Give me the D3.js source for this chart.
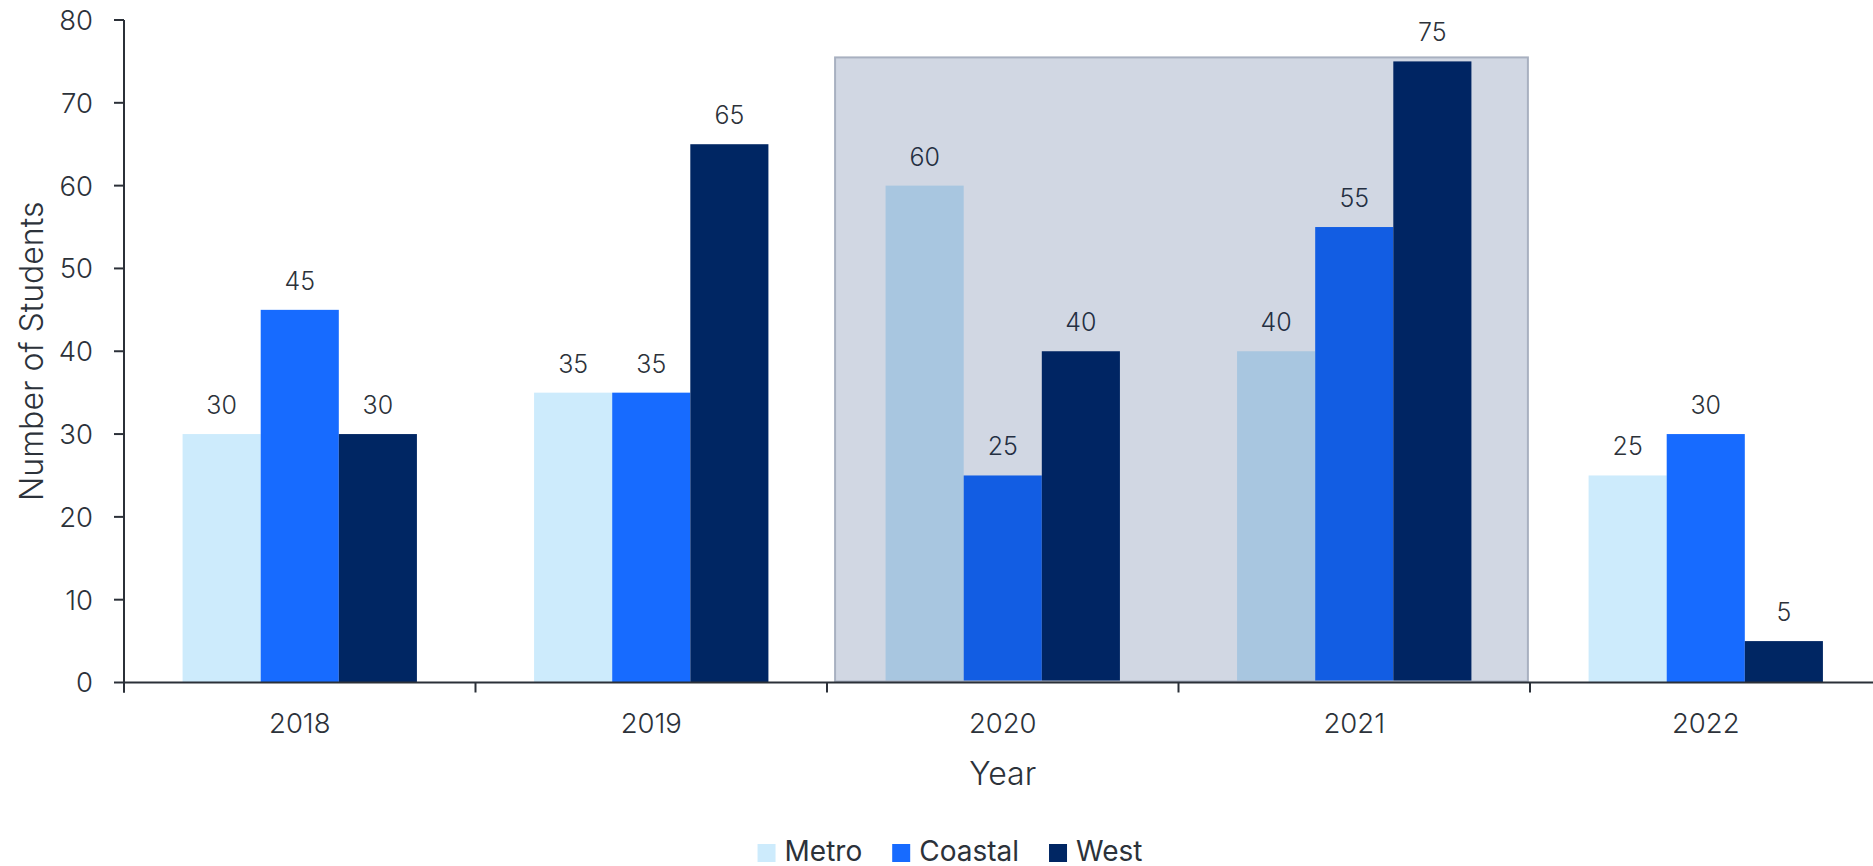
<!DOCTYPE html>
<html>
<head>
<meta charset="utf-8">
<script src="https://cdn.jsdelivr.net/npm/d3@7"></script>
<style>
  html, body { margin: 0; padding: 0; background: #ffffff; }
  svg { display: block; font-family: Inter, "Noto Sans", sans-serif; }
</style>
</head>
<body>
<svg id="chart" width="1873" height="866"></svg>
<script>
// Students per region, by year
const years = ["2018", "2019", "2020", "2021", "2022"];
const seriesNames = ["Metro", "Coastal", "West"];
const metro = [30, 35, 60, 40, 25];
const coastal = [45, 35, 25, 55, 30];
const west = [30, 65, 40, 75, 5];
const yTicks = [0, 10, 20, 30, 40, 50, 60, 70, 80];
const highlightYears = ["2020", "2021"];

const colors = { Metro: "#cdebfc", Coastal: "#176bff", West: "#002663" };
const textColor = "#2c323a";
const axisColor = "#2b3038";
const lightWeight = 300;

const seriesValues = { Metro: metro, Coastal: coastal, West: west };
const rows = years.map((yr, i) => ({
  year: yr,
  values: seriesNames.map(s => ({ key: s, value: seriesValues[s][i] }))
}));

const svg = d3.select("#chart");

const x = d3.scaleBand().domain(years).range([124, 1881.5]).padding(0);
const bw = x.bandwidth();
const x1 = d3.scaleBand().domain(seriesNames).range([bw / 6, bw * 5 / 6]).padding(0);
const y = d3.scaleLinear().domain([0, 80]).range([682.5, 20]);

// bars
const groups = svg.append("g").selectAll("g")
  .data(rows).join("g")
  .attr("transform", d => `translate(${x(d.year)},0)`);

groups.selectAll("rect")
  .data(d => d.values).join("rect")
  .attr("x", d => x1(d.key))
  .attr("y", d => y(d.value))
  .attr("width", x1.bandwidth())
  .attr("height", d => y(0) - y(d.value))
  .attr("fill", d => colors[d.key]);

// translucent highlight band over 2020–2021
const hlMax = d3.max(rows.filter(r => highlightYears.includes(r.year)), r => d3.max(r.values, v => v.value));
const hlLeft = x(highlightYears[0]) + bw * 0.023;
const hlRight = x(highlightYears[highlightYears.length - 1]) + bw * 0.994;
svg.append("rect")
  .attr("x", hlLeft)
  .attr("y", y(hlMax) - 4)
  .attr("width", hlRight - hlLeft)
  .attr("height", y(0) - 1 - (y(hlMax) - 4))
  .attr("fill", "rgb(0,33,99)")
  .attr("fill-opacity", 0.18)
  .attr("stroke", "#a8b0c0")
  .attr("stroke-width", 2);

// value labels
groups.selectAll("text.value")
  .data(d => d.values).join("text")
  .attr("class", "value")
  .attr("x", d => x1(d.key) + x1.bandwidth() / 2)
  .attr("y", d => y(d.value) - 20)
  .attr("text-anchor", "middle")
  .attr("font-size", 25)
  .attr("font-weight", lightWeight)
  .attr("fill", textColor)
  .text(d => d.value);

// x axis
const xAxis = svg.append("g").attr("transform", `translate(0,${y(0)})`);
xAxis.append("line")
  .attr("x1", x.range()[0]).attr("x2", x.range()[1])
  .attr("y1", 0).attr("y2", 0)
  .attr("stroke", axisColor).attr("stroke-width", 2);
const boundaries = years.map(yr => x(yr)).concat([x.range()[1]]);
xAxis.selectAll("line.tick")
  .data(boundaries).join("line")
  .attr("class", "tick")
  .attr("x1", d => d).attr("x2", d => d)
  .attr("y1", 0).attr("y2", 10)
  .attr("stroke", axisColor).attr("stroke-width", 2);
xAxis.selectAll("text")
  .data(years).join("text")
  .attr("x", d => x(d) + bw / 2)
  .attr("y", 50)
  .attr("text-anchor", "middle")
  .attr("font-size", 27.5)
  .attr("font-weight", lightWeight)
  .attr("fill", textColor)
  .text(d => d);

// y axis
const yAxis = svg.append("g").attr("transform", `translate(${x.range()[0]},0)`);
yAxis.append("line")
  .attr("x1", 0).attr("x2", 0)
  .attr("y1", y(80)).attr("y2", y(0) + 10)
  .attr("stroke", axisColor).attr("stroke-width", 2);
yAxis.selectAll("line.tick")
  .data(yTicks).join("line")
  .attr("class", "tick")
  .attr("x1", -10).attr("x2", 0)
  .attr("y1", d => y(d)).attr("y2", d => y(d))
  .attr("stroke", axisColor).attr("stroke-width", 2);
yAxis.selectAll("text")
  .data(yTicks).join("text")
  .attr("x", -31)
  .attr("y", d => y(d))
  .attr("dy", "0.36em")
  .attr("text-anchor", "end")
  .attr("font-size", 27.5)
  .attr("font-weight", lightWeight)
  .attr("fill", textColor)
  .text(d => d);

// axis titles
svg.append("text")
  .attr("x", (x.range()[0] + x.range()[1]) / 2)
  .attr("y", 785)
  .attr("text-anchor", "middle")
  .attr("font-size", 32)
  .attr("font-weight", lightWeight)
  .attr("fill", textColor)
  .text("Year");

svg.append("text")
  .attr("transform", `translate(43,${(y(0) + y(80)) / 2}) rotate(-90)`)
  .attr("text-anchor", "middle")
  .attr("font-size", 32)
  .attr("font-weight", lightWeight)
  .attr("fill", textColor)
  .text("Number of Students");

// legend
const legend = svg.append("g");
let cursor = 0;
seriesNames.forEach((name) => {
  const item = legend.append("g").attr("transform", `translate(${cursor},0)`);
  item.append("rect")
    .attr("x", 0).attr("y", -17)
    .attr("width", 18).attr("height", 18)
    .attr("fill", colors[name]);
  const t = item.append("text")
    .attr("x", 27).attr("y", 0)
    .attr("font-size", 28)
    .attr("fill", textColor)
    .text(name);
  cursor += 27 + t.node().getComputedTextLength() + 30;
});
const legendWidth = cursor - 30;
legend.attr("transform", `translate(${950 - legendWidth / 2},861)`);
</script>
</body>
</html>
